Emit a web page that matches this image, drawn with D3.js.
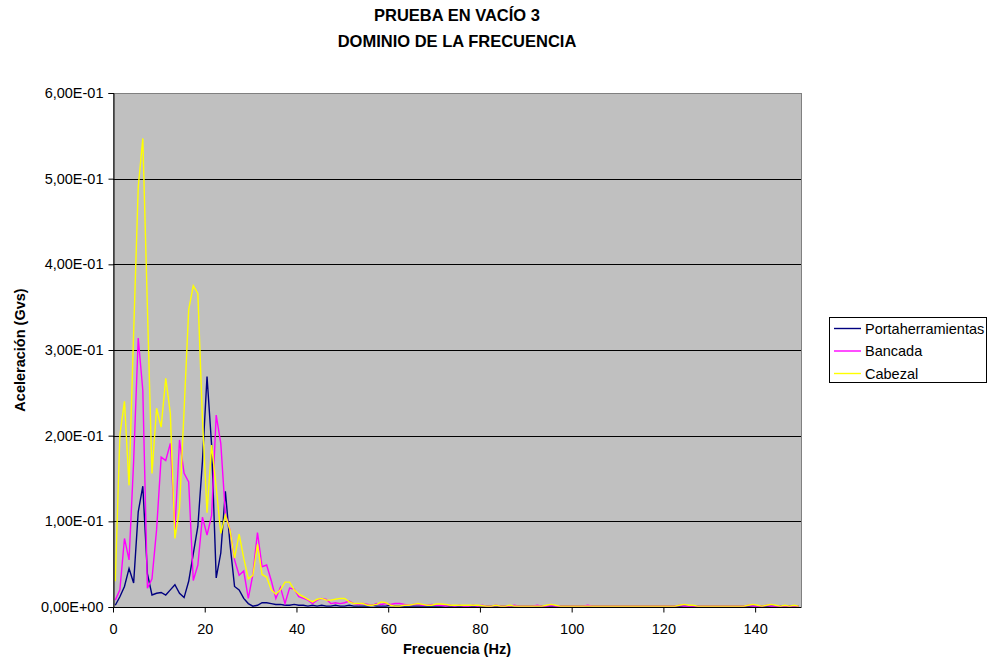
<!DOCTYPE html>
<html>
<head>
<meta charset="utf-8">
<script src="https://cdn.jsdelivr.net/npm/d3@7"></script>
<style>
  html, body { margin: 0; padding: 0; background: #ffffff; }
  svg { display: block; font-family: "Liberation Sans", Arial, sans-serif; }
</style>
</head>
<body>
<svg id="chart" width="991" height="662"></svg>
<script>
// ---------------- DATA ----------------
const titleLines = ["PRUEBA EN VACÍO 3", "DOMINIO DE LA FRECUENCIA"];
const xLabel = "Frecuencia (Hz)";
const yLabel = "Aceleración (Gvs)";
const seriesNames = ["Portaherramientas", "Bancada", "Cabezal"];
const xTicks = [0, 20, 40, 60, 80, 100, 120, 140];
const yTicks = [0, 0.1, 0.2, 0.3, 0.4, 0.5, 0.6];

// Frequency bins (Hz)
const frequency = [
  0.5,1.5,2.5,3.5,4.5,5.5,6.5,7.5,8.5,9.5,
  10.5,11.5,12.5,13.5,14.5,15.5,16.5,17.5,18.5,19.5,
  20.5,21.5,22.5,23.5,24.5,25.5,26.5,27.5,28.5,29.5,
  30.5,31.5,32.5,33.5,34.5,35.5,36.5,37.5,38.5,39.5,
  40.5,41.5,42.5,43.5,44.5,45.5,46.5,47.5,48.5,49.5,
  50.5,51.5,52.5,53.5,54.5,55.5,56.5,57.5,58.5,59.5,
  60.5,61.5,62.5,63.5,64.5,65.5,66.5,67.5,68.5,69.5,
  70.5,71.5,72.5,73.5,74.5,75.5,76.5,77.5,78.5,79.5,
  80.5,81.5,82.5,83.5,84.5,85.5,86.5,87.5,88.5,89.5,
  90.5,91.5,92.5,93.5,94.5,95.5,96.5,97.5,98.5,99.5,
  100.5,101.5,102.5,103.5,104.5,105.5,106.5,107.5,108.5,109.5,
  110.5,111.5,112.5,113.5,114.5,115.5,116.5,117.5,118.5,119.5,
  120.5,121.5,122.5,123.5,124.5,125.5,126.5,127.5,128.5,129.5,
  130.5,131.5,132.5,133.5,134.5,135.5,136.5,137.5,138.5,139.5,
  140.5,141.5,142.5,143.5,144.5,145.5,146.5,147.5,148.5,149.5
];

const portaherramientas = [
  0.002,0.012,0.024,0.045,0.028,0.111,0.141,0.039,0.014,0.016,
  0.017,0.014,0.020,0.026,0.016,0.011,0.030,0.062,0.094,0.170,
  0.269,0.189,0.034,0.063,0.135,0.074,0.024,0.020,0.010,0.004,
  0.001,0.002,0.005,0.005,0.004,0.003,0.003,0.002,0.002,0.003,
  0.002,0.002,0.001,0.002,0.001,0.002,0.001,0.001,0.002,0.001,
  0.001,0.002,0.001,0.001,0.001,0.001,0.002,0.001,0.001,0.001,
  0.002,0.001,0.001,0.001,0.001,0.001,0.001,0.001,0.001,0.001,
  0.001,0.001,0.001,0.001,0.001,0.001,0.001,0.001,0.001,0.001,
  0.001,0.001,0.001,0.001,0.001,0.001,0.001,0.001,0.001,0.001,
  0.001,0.001,0.001,0.001,0.001,0.001,0.001,0.001,0.001,0.001,
  0.001,0.001,0.001,0.001,0.001,0.001,0.001,0.001,0.001,0.001,
  0.001,0.001,0.001,0.001,0.001,0.001,0.001,0.001,0.001,0.001,
  0.001,0.001,0.001,0.001,0.001,0.001,0.001,0.001,0.001,0.001,
  0.001,0.001,0.001,0.001,0.001,0.001,0.001,0.001,0.001,0.001,
  0.001,0.001,0.001,0.001,0.001,0.001,0.001,0.001,0.001,0.001
];

const bancada = [
  0.008,0.020,0.080,0.055,0.170,0.314,0.253,0.022,0.033,0.090,
  0.175,0.171,0.191,0.090,0.195,0.156,0.146,0.031,0.049,0.105,
  0.084,0.107,0.224,0.191,0.109,0.090,0.055,0.037,0.042,0.010,
  0.038,0.087,0.047,0.049,0.031,0.010,0.023,0.004,0.022,0.021,
  0.012,0.010,0.008,0.004,0.008,0.010,0.009,0.004,0.005,0.004,
  0.005,0.007,0.004,0.003,0.004,0.003,0.002,0.004,0.003,0.004,
  0.003,0.004,0.004,0.003,0.002,0.003,0.003,0.002,0.002,0.003,
  0.002,0.002,0.001,0.002,0.001,0.002,0.001,0.001,0.002,0.001,
  0.002,0.001,0.001,0.002,0.001,0.001,0.001,0.002,0.001,0.001,
  0.001,0.001,0.002,0.001,0.001,0.002,0.001,0.001,0.001,0.001,
  0.001,0.001,0.001,0.002,0.001,0.001,0.001,0.001,0.001,0.001,
  0.001,0.001,0.001,0.001,0.001,0.001,0.001,0.001,0.001,0.001,
  0.001,0.001,0.001,0.002,0.001,0.001,0.001,0.001,0.001,0.001,
  0.001,0.001,0.001,0.001,0.001,0.001,0.001,0.001,0.002,0.001,
  0.001,0.001,0.002,0.001,0.001,0.001,0.001,0.001,0.001,0.001
];

const cabezal = [
  0.030,0.201,0.240,0.142,0.320,0.490,0.547,0.350,0.156,0.232,
  0.210,0.267,0.226,0.080,0.115,0.230,0.347,0.375,0.366,0.220,
  0.110,0.189,0.140,0.086,0.107,0.090,0.057,0.085,0.057,0.033,
  0.037,0.073,0.038,0.035,0.020,0.015,0.020,0.029,0.029,0.020,
  0.015,0.012,0.009,0.006,0.009,0.010,0.008,0.008,0.009,0.010,
  0.010,0.006,0.004,0.004,0.004,0.002,0.002,0.003,0.006,0.005,
  0.002,0.001,0.001,0.002,0.002,0.003,0.004,0.003,0.002,0.002,
  0.0035,0.0035,0.003,0.002,0.002,0.002,0.002,0.002,0.002,0.002,
  0.0015,0.001,0.001,0.002,0.001,0.001,0.002,0.001,0.001,0.001,
  0.001,0.001,0.001,0.001,0.002,0.003,0.002,0.001,0.001,0.001,
  0.001,0.001,0.001,0.001,0.001,0.001,0.001,0.001,0.001,0.001,
  0.001,0.001,0.001,0.001,0.001,0.001,0.001,0.001,0.001,0.001,
  0.001,0.001,0.001,0.002,0.003,0.002,0.002,0.001,0.001,0.001,
  0.001,0.001,0.001,0.001,0.001,0.001,0.001,0.001,0.002,0.003,
  0.002,0.001,0.002,0.003,0.002,0.001,0.002,0.001,0.002,0.001
];

const seriesColors = ["#000080", "#FF00FF", "#FFFF00"];

// ---------------- CHART ----------------
const svg = d3.select("#chart");
const plot = { left: 113, right: 801, top: 93, bottom: 607 };
const FONT = '"Liberation Sans", Arial, sans-serif';

const x = d3.scaleLinear().domain([0, 150]).range([plot.left, plot.right]);
const y = d3.scaleLinear().domain([0, 0.6]).range([plot.bottom, plot.top]);

function sci(v) {
  if (v === 0) return "0,00E+00";
  const e = Math.floor(Math.log10(Math.abs(v)) + 1e-9);
  const m = v / Math.pow(10, e);
  const ee = (e < 0 ? "-" : "+") + String(Math.abs(e)).padStart(2, "0");
  return m.toFixed(2).replace(".", ",") + "E" + ee;
}

// Plot area background
svg.append("rect")
  .attr("x", plot.left).attr("y", plot.top)
  .attr("width", plot.right - plot.left).attr("height", plot.bottom - plot.top)
  .attr("fill", "#C0C0C0")
  .attr("stroke", "#808080").attr("stroke-width", 1)
  .attr("shape-rendering", "crispEdges");

// Gridlines
svg.append("g")
  .selectAll("line")
  .data(yTicks.filter(d => d > 0 && d < 0.6))
  .join("line")
  .attr("x1", plot.left).attr("x2", plot.right)
  .attr("y1", d => Math.round(y(d)) + 0.5).attr("y2", d => Math.round(y(d)) + 0.5)
  .attr("stroke", "#000").attr("stroke-width", 1);

// Series lines (Excel draws in series order, last on top)
const series = [portaherramientas, bancada, cabezal];
const line = d3.line()
  .x((d, i) => x(frequency[i]))
  .y(d => y(d));

series.forEach((s, si) => {
  svg.append("path")
    .datum(s)
    .attr("fill", "none")
    .attr("stroke", seriesColors[si])
    .attr("stroke-width", 1.4)
    .attr("stroke-linejoin", "miter")
    .attr("d", line);
});

// Axes
const yAxis = svg.append("g")
  .attr("transform", `translate(${plot.left + 0.5},0)`)
  .call(d3.axisLeft(y).tickValues(yTicks).tickFormat(sci).tickSize(5).tickPadding(5));
yAxis.select(".domain").attr("stroke", "#000");
yAxis.selectAll("text").attr("font-size", "14.5px").attr("fill", "#000")
  .attr("font-family", FONT);

const xAxis = svg.append("g")
  .attr("transform", `translate(0,${plot.bottom + 0.5})`)
  .call(d3.axisBottom(x).tickValues(xTicks).tickFormat(d => d).tickSize(5).tickPadding(11));
xAxis.select(".domain").attr("stroke", "#000").attr("d", `M${plot.left},0H${plot.right}`);
xAxis.selectAll("text").attr("font-size", "14.5px").attr("fill", "#000")
  .attr("font-family", FONT);

// Titles
svg.append("g").selectAll("text")
  .data(titleLines)
  .join("text")
  .attr("x", (plot.left + plot.right) / 2)
  .attr("y", (d, i) => 21 + i * 26)
  .attr("text-anchor", "middle")
  .attr("font-size", "16.5px")
  .attr("font-weight", "bold")
  .text(d => d);

svg.append("text")
  .attr("x", (plot.left + plot.right) / 2)
  .attr("y", 654)
  .attr("text-anchor", "middle")
  .attr("font-size", "14.5px")
  .attr("font-weight", "bold")
  .text(xLabel);

svg.append("text")
  .attr("transform", `translate(25,${(plot.top + plot.bottom) / 2}) rotate(-90)`)
  .attr("text-anchor", "middle")
  .attr("font-size", "14.5px")
  .attr("font-weight", "bold")
  .text(yLabel);

// Legend
const legend = svg.append("g");
legend.append("rect")
  .attr("x", 829.5).attr("y", 317.5).attr("width", 157).attr("height", 65)
  .attr("fill", "#fff").attr("stroke", "#000").attr("stroke-width", 1);
const items = legend.selectAll("g.item")
  .data(seriesNames)
  .join("g")
  .attr("class", "item")
  .attr("transform", (d, i) => `translate(0,${328.5 + i * 22.5})`);
items.append("line")
  .attr("x1", 834).attr("x2", 861).attr("y1", 0).attr("y2", 0)
  .attr("stroke", (d, i) => seriesColors[i]).attr("stroke-width", 1.4);
items.append("text")
  .attr("x", 865).attr("y", 0).attr("dy", "0.35em")
  .attr("font-size", "14.5px")
  .text(d => d);
</script>
</body>
</html>
